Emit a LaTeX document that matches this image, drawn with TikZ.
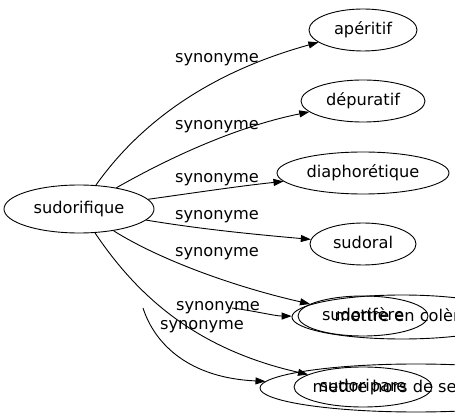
\documentclass[tikz,border=0pt]{standalone}
\usepackage{fontspec}
\setmainfont{DejaVu Sans}
\usetikzlibrary{shapes.geometric,arrows.meta}
\begin{document}
\begin{tikzpicture}[x=1pt,y=-1pt,
  every node/.style={font=\fontsize{16.2}{19}\selectfont},
  word/.style={draw, ellipse, line width=0.9pt, inner sep=0pt, text height=12pt, text depth=3.5pt},
  lab/.style={inner sep=0pt, text height=12pt, text depth=3.5pt},
  link/.style={line width=0.9pt, -{Triangle[length=10pt,width=7pt]}}]
\useasboundingbox (0,0) rectangle (455,419);
% nodes
\node[word, minimum width=150pt, minimum height=48pt] (s) at (79,209) {sudorifique};
\node[word, minimum width=108pt, minimum height=42pt] (a) at (363,30) {apéritif};
\node[word, minimum width=124pt, minimum height=42pt] (d) at (363,101) {dépuratif};
\node[word, minimum width=172pt, minimum height=42pt] (di) at (363,173) {diaphorétique};
\node[word, minimum width=106pt, minimum height=42pt] (so) at (363,244) {sudoral};
\node[word, minimum width=130pt, minimum height=40pt] (sf) at (363,316) {sudorifère};
\node[word, minimum width=220pt, minimum height=44pt] (mc) at (402,317) {mettre en colère};
\node[word, minimum width=138pt, minimum height=40pt] (sp) at (363,387) {sudoripare};
\node[word, minimum width=312pt, minimum height=48pt] (mh) at (416,388) {mettre hors de ses gonds};
\coordinate (f7) at (232,308);
\coordinate (f8) at (143,308);
% edges
\draw[link] (s) .. controls (135,130) and (200,75) .. (a);
\draw[link] (s) .. controls (160,163) and (230,128) .. (d);
\draw[link] (s) .. controls (200,192) and (240,186) .. (di);
\draw[link] (s) .. controls (200,229) and (250,234) .. (so);
\draw[link] (s) .. controls (160,260) and (235,287) .. (sf);
\draw[link] (s) .. controls (140,300) and (200,350) .. (sp);
\draw[link] (f7) .. controls (255,311) and (275,316) .. (mc);
\draw[link] (f8) .. controls (155,345) and (190,378) .. (mh);
% labels
\node[lab] (l1) at (217,58) {synonyme};
\node[lab] (l2) at (217,125) {synonyme};
\node[lab] (l3) at (217,178) {synonyme};
\node[lab] (l4) at (217,215) {synonyme};
\node[lab] (l5) at (217,252) {synonyme};
\node[lab] (l6) at (218,306) {synonyme};
\node[lab] (l7) at (202,325) {synonyme};
\end{tikzpicture}
\end{document}
